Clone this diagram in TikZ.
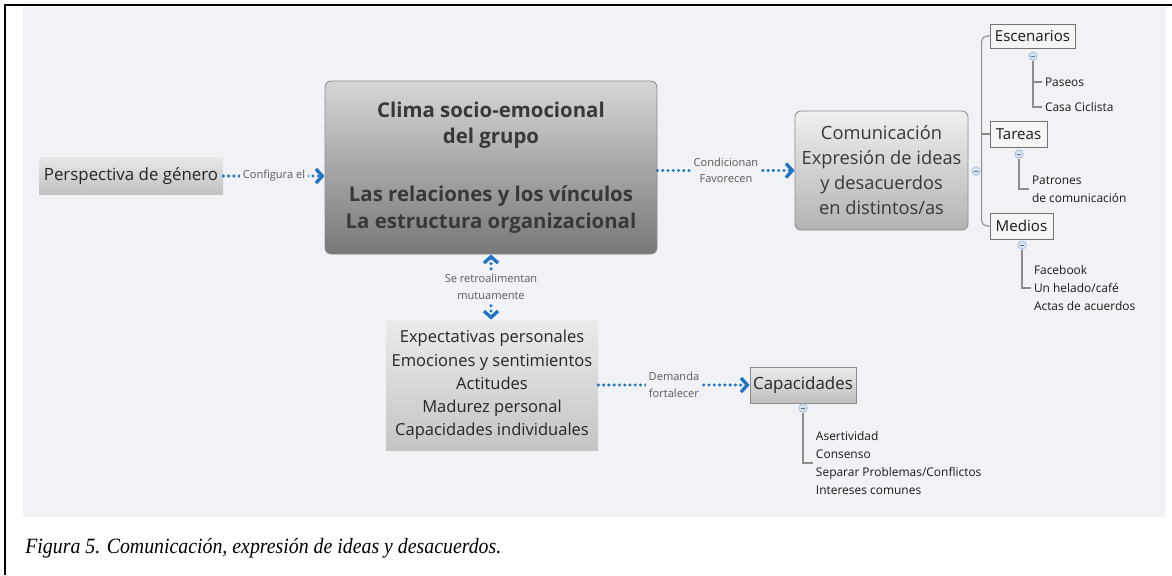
\documentclass[tikz,border=0pt]{standalone}
\usepackage{fontspec}
\setmainfont{Liberation Serif}
\newfontfamily\mapfont{Open Sans}
\usetikzlibrary{positioning}
\usetikzlibrary{arrows.meta}
\definecolor{backc}{HTML}{F1F2F6}
\definecolor{linkc}{HTML}{1F74C6}
\definecolor{treec}{HTML}{8C8C8C}
\definecolor{textc}{HTML}{383838}
\definecolor{foldc}{HTML}{D5E3F1}
\definecolor{folddc}{HTML}{A3BCDB}

\begin{document}
\begin{tikzpicture}[x=0.02cm,y=-0.02cm,font=\mapfont,
  >={Straight Barb[length=3.6pt,width=8pt,line width=1.9pt]},
  topic/.style={draw=treec,line width=.5pt,rounded corners=3.5pt,align=center,inner sep=0pt,text=textc},
  plain/.style={align=center,inner sep=0pt,text=black!85},
  sub/.style={draw=black!55,fill=white!96!black,line width=.4pt,inner sep=0pt,text=black!90,font=\mapfont\fontsize{8.6}{10}\selectfont},
  leaf/.style={anchor=west,align=left,inner sep=1.5pt,text=black!90,font=\mapfont\fontsize{6.8}{10.2}\selectfont},
  fold/.style={circle,draw=folddc,fill=foldc,line width=.4pt,minimum size=4.8pt,inner sep=0pt,
    path picture={\draw[folddc!60!black,line width=.3pt] ([xshift=-1.2pt]path picture bounding box.center) -- ([xshift=1.2pt]path picture bounding box.center);}},
  tree/.style={draw=treec,line width=.6pt},
  link/.style={linkc,line width=1.9pt,dash pattern=on 0pt off 3pt,line cap=round,->},
  linklabel/.style={fill=backc,inner sep=1.5pt,align=center,text=black!65,font=\mapfont\fontsize{6.3}{9.4}\selectfont}]
\useasboundingbox (0,0) rectangle (1172,575);
\fill[backc] (23,7) rectangle (1166,517);
\draw[line width=1.7pt] (5,575) -- (5,5) -- (1172,5);

\node[plain,minimum width=184*0.02cm,minimum height=37*0.02cm,top color=black!9,bottom color=black!25,
  font=\mapfont\fontsize{9.6}{12}\selectfont] (pers) at (131,176) {Perspectiva de género};
\node[topic,minimum width=332*0.02cm,minimum height=173*0.02cm,top color=black!16,bottom color=black!53,
  font=\mapfont\bfseries\fontsize{11.6}{15}\selectfont] (clima) at (491,167.5)
  {Clima socio-emocional\\del grupo\\[18pt]Las relaciones y los vínculos\\La estructura organizacional};
\node[topic,minimum width=173*0.02cm,minimum height=119*0.02cm,top color=black!6,bottom color=black!30,
  font=\mapfont\fontsize{10.4}{14.2}\selectfont] (comm) at (881.5,170.5)
  {Comunicación\\Expresión de ideas\\y desacuerdos\\en distintos/as};
\node[plain,minimum width=212*0.02cm,minimum height=130*0.02cm,top color=black!8,bottom color=black!23,
  font=\mapfont\fontsize{9.4}{13.2}\selectfont] (expec) at (492,385)
  {Expectativas personales\\Emociones y sentimientos\\Actitudes\\Madurez personal\\Capacidades individuales};
\node[plain,draw=treec,line width=.5pt,minimum width=106*0.02cm,minimum height=36*0.02cm,top color=black!8,bottom color=black!25,
  font=\mapfont\fontsize{9.6}{12}\selectfont] (capac) at (803,385) {Capacidades};

\draw[link] (pers.east) -- (pers.east -| clima.west) node[midway,linklabel] {Configura el};
\draw[link] (clima.east |- comm.west) -- (comm.west) node[midway,linklabel] {Condicionan\\Favorecen};
\draw[link,<->] (clima.south) -- (clima.south |- expec.north) node[midway,linklabel] {Se retroalimentan\\mutuamente};
\draw[link] (expec.east) -- (capac.west) node[midway,linklabel] {Demanda\\fortalecer};

% ramas de comunicacion
\node[sub,minimum width=85*0.02cm,minimum height=24*0.02cm] (esc) at (1032.5,36) {Escenarios};
\node[sub,minimum width=57*0.02cm,minimum height=26*0.02cm] (tar) at (1018.5,134) {Tareas};
\node[sub,minimum width=63*0.02cm,minimum height=26*0.02cm] (med) at (1021.5,226) {Medios};
\node[fold] (cc) at (976,171) {};
\draw[tree,rounded corners=3pt] (esc.west) -- ++(-8,0) |- (med.west);
\draw[tree] (tar.west) -- ++(-8,0);

\node[fold] (fe) at (1033,56) {};
\node[leaf] (paseos) at (1042,82) {Paseos};
\node[leaf] (casa) at (1042,107) {Casa Ciclista};
\draw[tree] (fe.south) |- (paseos.west);
\draw[tree] (fe.south) |- (casa.west);

\node[fold] (ft) at (1019,154) {};
\node[leaf] (patron) at (1029,189) {Patrones\\de comunicación};
\draw[tree] (ft.south) |- (patron.west);

\node[fold] (fm) at (1022,245) {};
\node[leaf] (medios) at (1031,288) {Facebook\\Un helado/café\\Actas de acuerdos};
\draw[tree] (fm.south) |- (medios.west);

\node[fold] (fk) at (803,408) {};
\node[leaf] (capas) at (813,463) {Asertividad\\Consenso\\Separar Problemas/Conflictos\\Intereses comunes};
\draw[tree] (fk.south) |- (capas.west);

\node[anchor=west,inner sep=0pt,font=\itshape\fontsize{12.4}{14}\selectfont] (caption) at (25,548)
  {\scalebox{0.91}[1]{Figura 5. Comunicación, expresión de ideas y desacuerdos.}};
\end{tikzpicture}
\end{document}
